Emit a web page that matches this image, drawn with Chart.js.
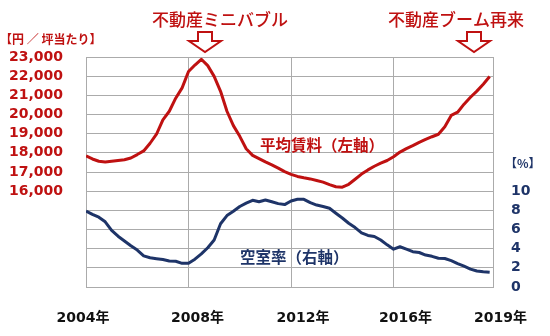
<!DOCTYPE html>
<html>
<head>
<meta charset="utf-8">
<script src="https://cdn.jsdelivr.net/npm/chart.js@4/dist/chart.umd.min.js"></script>
<style>
  body { margin: 0; background: #fff; }
  canvas { display: block; }
</style>
</head>
<body>
<canvas id="chart" width="550" height="336"></canvas>
<script>
// quarterly points, 2004 Q1 .. 2019 Q4
const quarters = [
  2004, 2004.25, 2004.5, 2004.75, 2005, 2005.25, 2005.5, 2005.75,
  2006, 2006.25, 2006.5, 2006.75, 2007, 2007.25, 2007.5, 2007.75,
  2008, 2008.25, 2008.5, 2008.75, 2009, 2009.25, 2009.5, 2009.75,
  2010, 2010.25, 2010.5, 2010.75, 2011, 2011.25, 2011.5, 2011.75,
  2012, 2012.25, 2012.5, 2012.75, 2013, 2013.25, 2013.5, 2013.75,
  2014, 2014.25, 2014.5, 2014.75, 2015, 2015.25, 2015.5, 2015.75,
  2016, 2016.25, 2016.5, 2016.75, 2017, 2017.25, 2017.5, 2017.75,
  2018, 2018.25, 2018.5, 2018.75, 2019, 2019.25, 2019.5, 2019.75
];

// average rent, yen per tsubo (left axis)
const rent = [
  17840, 17680, 17560, 17520, 17560, 17600, 17640, 17730,
  17910, 18100, 18500, 18970, 19720, 20170, 20850, 21390,
  22240, 22580, 22880, 22550, 21990, 21210, 20170, 19420,
  18860, 18210, 17870, 17700, 17530, 17370, 17200, 17020,
  16880, 16770, 16700, 16640, 16560, 16470, 16340, 16230,
  16210, 16360, 16620, 16890, 17110, 17300, 17460, 17600,
  17800, 18040, 18220, 18380, 18550, 18700, 18840, 18970,
  19360, 19950, 20120, 20540, 20900, 21220, 21580, 21980
];

// vacancy rate, % (right axis)
const vacancy = [
  7.93, 7.58, 7.28, 6.8, 5.9, 5.3, 4.8, 4.3,
  3.85, 3.25, 3.05, 2.95, 2.86, 2.72, 2.69, 2.47,
  2.48, 2.9, 3.45, 4.1, 4.9, 6.6, 7.45, 7.9,
  8.4, 8.75, 9.05, 8.9, 9.08, 8.9, 8.7, 8.6,
  8.98, 9.15, 9.15, 8.8, 8.55, 8.4, 8.22, 7.7,
  7.2, 6.65, 6.2, 5.65, 5.38, 5.27, 4.9, 4.4,
  3.95, 4.2, 3.95, 3.68, 3.6, 3.33, 3.2, 3.0,
  2.97, 2.75, 2.45, 2.17, 1.87, 1.67, 1.58, 1.53
];

const xLabels = ['2004年', '2008年', '2012年', '2016年', '2019年'];
const xLabelYears = [2004, 2008, 2012, 2016, 2019];
const rentTicks = [16000, 17000, 18000, 19000, 20000, 21000, 22000, 23000];
const vacancyTicks = [0, 2, 4, 6, 8, 10];

const RED = '#bf1111';
const NAVY = '#1e3468';
const GRID = '#ababab';
const NUM_FONT = "'DejaVu Sans', 'Noto Sans CJK JP', sans-serif";
const JP_FONT = "'Noto Sans CJK JP', sans-serif";

function points(values) {
  return quarters.map(function (q, i) { return { x: q, y: values[i] }; });
}

// outlined down arrow, top-centre at (cx, top)
function downArrow(ctx, cx, top) {
  ctx.beginPath();
  ctx.moveTo(cx - 7, top);
  ctx.lineTo(cx + 7, top);
  ctx.lineTo(cx + 7, top + 9);
  ctx.lineTo(cx + 16, top + 9);
  ctx.lineTo(cx, top + 20);
  ctx.lineTo(cx - 16, top + 9);
  ctx.lineTo(cx - 7, top + 9);
  ctx.closePath();
  ctx.fillStyle = '#fff';
  ctx.fill();
  ctx.lineWidth = 2;
  ctx.strokeStyle = RED;
  ctx.stroke();
}

const decorations = {
  id: 'decorations',
  afterDraw: function (chart) {
    const ctx = chart.ctx;
    const xs = chart.scales.x;
    ctx.save();

    // year labels under the plot
    const nudges = [-3, 9, 12, 12, 30];
    ctx.font = 'bold 14px ' + NUM_FONT;
    ctx.fillStyle = '#111';
    ctx.textAlign = 'center';
    ctx.textBaseline = 'middle';
    xLabels.forEach(function (t, i) {
      ctx.fillText(t, xs.getPixelForValue(xLabelYears[i]) + nudges[i], 318);
    });

    // axis units
    ctx.font = 'bold 12px ' + JP_FONT;
    ctx.textAlign = 'left';
    ctx.fillStyle = RED;
    ctx.fillText('【円 ／ 坪当たり】', 0, 39);
    ctx.fillStyle = NAVY;
    ctx.fillText('【%】', 505, 163);

    // headline callouts
    ctx.font = '500 17px ' + JP_FONT;
    ctx.fillStyle = RED;
    ctx.fillText('不動産ミニバブル', 152, 20);
    ctx.fillText('不動産ブーム再来', 388, 20);
    downArrow(ctx, 205, 32);
    downArrow(ctx, 474, 32);

    // series labels
    ctx.font = 'bold 15.5px ' + JP_FONT;
    ctx.fillStyle = RED;
    ctx.fillText('平均賃料（左軸）', 260, 145);
    ctx.fillStyle = NAVY;
    ctx.fillText('空室率（右軸）', 240, 257);

    ctx.restore();
  }
};

const ctx = document.getElementById('chart').getContext('2d');
const chart = new Chart(ctx, {
  type: 'line',
  data: {
    datasets: [{
      label: '平均賃料',
      data: points(rent),
      yAxisID: 'y',
      borderColor: RED,
      borderWidth: 3,
      pointRadius: 0,
      borderJoinStyle: 'round',
      fill: false
    }, {
      label: '空室率',
      data: points(vacancy),
      yAxisID: 'y1',
      borderColor: NAVY,
      borderWidth: 3,
      pointRadius: 0,
      borderJoinStyle: 'round',
      fill: false
    }]
  },
  options: {
    responsive: false,
    animation: false,
    layout: { padding: { top: 57, left: 0, right: 0, bottom: 0 } },
    plugins: {
      legend: { display: false },
      tooltip: { enabled: false }
    },
    scales: {
      x: {
        type: 'linear',
        min: 2004,
        max: 2019.88,
        afterBuildTicks: function (scale) {
          scale.ticks = [2004, 2008, 2012, 2016].map(function (v) { return { value: v }; });
        },
        ticks: { display: false, autoSkip: false },
        grid: { color: GRID, drawTicks: false },
        border: { color: GRID },
        afterFit: function (scale) { scale.height = 49; }
      },
      y: {
        position: 'left',
        min: 11000,
        max: 23000,
        afterBuildTicks: function (scale) {
          const t = [];
          for (let v = 11000; v <= 23000; v += 1000) t.push({ value: v });
          scale.ticks = t;
        },
        ticks: {
          autoSkip: false,
          padding: 23,
          color: RED,
          font: { family: NUM_FONT, size: 14, weight: 'bold' },
          callback: function (v) {
            return rentTicks.indexOf(v) >= 0 ? v.toLocaleString('en-US') : '';
          }
        },
        grid: { color: GRID, drawTicks: false },
        border: { color: GRID },
        afterFit: function (scale) { scale.width = 86; }
      },
      y1: {
        position: 'right',
        min: 0,
        max: 24,
        ticks: {
          autoSkip: false,
          stepSize: 2,
          padding: 18,
          color: NAVY,
          font: { family: NUM_FONT, size: 14, weight: 'bold' },
          callback: function (v) {
            return vacancyTicks.indexOf(v) >= 0 ? String(v) : '';
          }
        },
        grid: { drawOnChartArea: false, drawTicks: false },
        border: { color: GRID },
        afterFit: function (scale) { scale.width = 57; }
      }
    }
  },
  plugins: [decorations]
});
</script>
</body>
</html>
